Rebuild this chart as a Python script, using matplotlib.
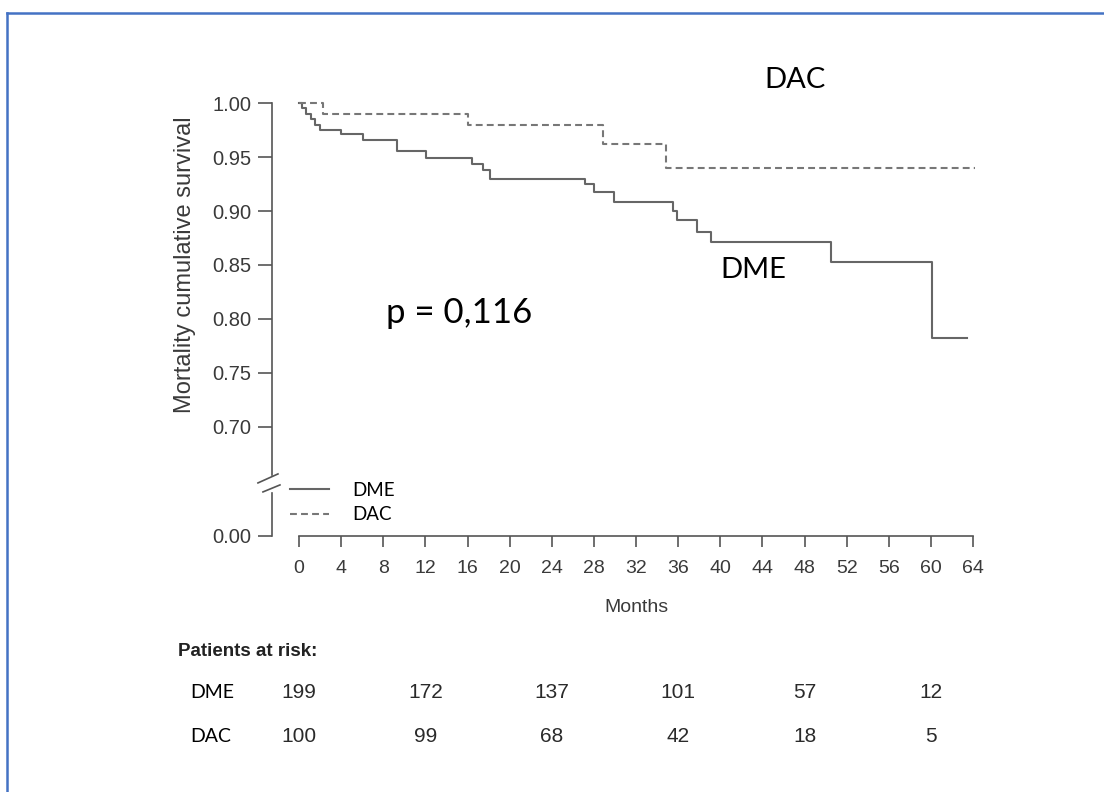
import matplotlib
matplotlib.use("Agg")
import matplotlib.pyplot as plt
import matplotlib.transforms as mtransforms
from matplotlib.lines import Line2D

plt.rcParams["font.family"] = ["Liberation Sans", "DejaVu Sans"]

# Kaplan-Meier steps
dme_months = [0, 0.3, 0.7, 1.1, 1.5, 2.0, 4.0, 6.1, 9.3, 12.1, 16.4, 17.5, 18.1,
              27.2, 28.0, 29.9, 35.5, 35.9, 37.8, 39.1, 50.5, 60.1, 63.4]
dme_surv = [1.0, 0.995, 0.99, 0.985, 0.98, 0.975, 0.971, 0.966, 0.956, 0.949, 0.944, 0.938, 0.930,
            0.925, 0.918, 0.908, 0.900, 0.892, 0.881, 0.871, 0.853, 0.782, 0.782]
dac_months = [0, 2.3, 16.0, 28.9, 34.8, 64.2]
dac_surv = [1.0, 0.990, 0.980, 0.962, 0.9395, 0.9395]

x_ticks = list(range(0, 65, 4))
y_ticks = [0.70, 0.75, 0.80, 0.85, 0.90, 0.95, 1.00]
y_break_low = 0.599  # where the "0.00" tick sits below the break

risk_months = [0, 12, 24, 36, 48, 60]
risk_groups = ["DME", "DAC"]
dme_risk = [199, 172, 137, 101, 57, 12]
dac_risk = [100, 99, 68, 42, 18, 5]

GREY = "#555555"
CURVE = "#666666"
W, H = 1104, 792

fig = plt.figure(figsize=(W / 100, H / 100), dpi=100)
ax = fig.add_axes([272 / W, (H - 536) / H, 706.4 / W, (536 - 99.8) / H])

ax.step(dme_months, dme_surv, where="post", color=CURVE, lw=1.5, label="DME")
ax.step(dac_months, dac_surv, where="post", color="#777777", lw=1.5,
        linestyle=(0, (3.3, 2)), label="DAC")

ax.set_xlim(-2.56, 64.5)
ax.set_ylim(y_break_low, 1.003)
ax.set_xticks(x_ticks)
ax.set_yticks([y_break_low] + y_ticks)
ax.set_yticklabels(["0.00"] + [f"{v:.2f}" for v in y_ticks])

for s in ["top", "right"]:
    ax.spines[s].set_visible(False)
for s in ["left", "bottom"]:
    ax.spines[s].set_color(GREY)
    ax.spines[s].set_linewidth(1.2)
ax.spines["bottom"].set_bounds(0, 64)
ax.spines["left"].set_bounds(0.6556, 1.0)

ax.tick_params(axis="y", length=10, width=1.2, color=GREY, pad=5, labelsize=14.5, labelcolor="#3a3a3a")
ax.tick_params(axis="x", length=8, width=1.2, color=GREY, pad=9, labelsize=14, labelcolor="#3a3a3a")

# lower piece of the broken y axis and the break marks
yax = ax.get_yaxis_transform()
ax.plot([0, 0], [y_break_low, 0.6388], transform=yax, color=GREY, lw=1.2, clip_on=False)


def px2data(px, py):
    return (px - 299) / 10.53, 0.70 - (py - 427) / 1080


for (x0, y0), (x1, y1) in [((258, 483), (278, 474)), ((263, 492), (280, 485))]:
    a = px2data(x0, y0)
    b = px2data(x1, y1)
    ax.plot([a[0], b[0]], [a[1], b[1]], color=GREY, lw=1.2, clip_on=False)

leg = ax.legend(loc="upper left", bbox_to_anchor=(290 / W, 1 - 482 / H),
                bbox_transform=fig.transFigure, frameon=False, borderpad=0, borderaxespad=0,
                handlelength=2.1, handletextpad=1.2, labelspacing=0.4,
                prop={"family": "Lato", "size": 13.5})

fig.text(636 / W, 1 - 607 / H, "Months", ha="center", va="center", fontsize=14, color="#3a3a3a")
fig.text(185 / W, 1 - 265 / H, "Mortality cumulative survival", rotation=90,
         ha="center", va="center", fontsize=17, color="#3a3a3a")

fig.text(795 / W, 1 - 80 / H, "DAC", ha="center", va="center", fontsize=21, family="Lato")
fig.text(753 / W, 1 - 270 / H, "DME", ha="center", va="center", fontsize=21, family="Lato")
fig.text(459 / W, 1 - 313 / H, "p = 0,116", ha="center", va="center", fontsize=25, family="Lato")

# patients at risk table
fig.text(178 / W, 1 - 652 / H, "Patients at risk:", ha="left", va="center",
         fontsize=13.5, fontweight="bold", color="#222222")
tr = mtransforms.blended_transform_factory(ax.transData, fig.transFigure)
for name, counts, py in zip(risk_groups, [dme_risk, dac_risk], [692, 736]):
    fig.text(190 / W, 1 - py / H, name, ha="left", va="center", fontsize=14, family="Lato")
    for m, n in zip(risk_months, counts):
        ax.text(m, 1 - py / H, str(n), transform=tr, ha="center", va="center",
                fontsize=15, color="#2a2a2a")

# blue frame of the slide
fig.add_artist(Line2D([6.5 / W, 1], [1 - 12.5 / H, 1 - 12.5 / H], transform=fig.transFigure,
                      color="#4472C4", lw=1.8))
fig.add_artist(Line2D([6.5 / W, 6.5 / W], [0, 1 - 12.5 / H], transform=fig.transFigure,
                      color="#4472C4", lw=1.8))

fig.savefig("out.png", dpi=100)
